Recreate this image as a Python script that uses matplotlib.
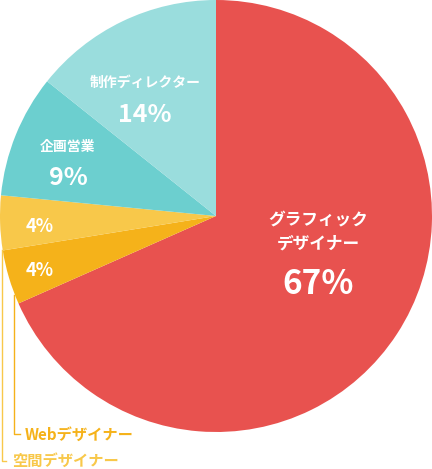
import matplotlib
matplotlib.use("Agg")
import matplotlib.pyplot as plt
import numpy as np

plt.rcParams['font.family'] = ['Noto Sans CJK JP', 'DejaVu Sans']

categories = ["グラフィック\nデザイナー", "Webデザイナー", "空間デザイナー", "企画営業", "制作ディレクター"]
values = [67, 4, 4, 9, 14]
colors = ["#E8524F", "#F5B21A", "#F8C84A", "#6CCFCF", "#9ADDDD"]

W, H = 432, 469
fig = plt.figure(figsize=(W/100, H/100), dpi=100)
ax = fig.add_axes([0, 0, 1, 1])

cx, cy, r = 216, 216, 216
# y axis is inverted below, so angles are mirrored: start at -90 and go counterclockwise in data
ax.pie(values, colors=colors, startangle=-90, counterclock=True, radius=r,
       center=(cx, cy), frame=True, wedgeprops=dict(linewidth=0))
ax.set_xlim(0, W); ax.set_ylim(H, 0); ax.axis('off'); ax.set_aspect('auto')

def txt(x, y, s, size, weight='bold', color='white', ha='center'):
    ax.text(x, y, s, fontsize=size, fontweight=weight, color=color, ha=ha, va='center',
            linespacing=1.3)

txt(318, 232, categories[0], 12)
txt(318, 285, f"{values[0]}%", 24)
txt(40, 270, f"{values[1]}%", 13)
txt(40, 226, f"{values[2]}%", 13)
txt(68, 147, categories[3], 10)
txt(68, 178, f"{values[3]}%", 18)
txt(145, 83, categories[4], 10)
txt(145, 115, f"{values[4]}%", 18)

ax.plot([14, 14, 20], [295, 434, 434], color="#F5B21A", lw=1)
ax.plot([2, 2, 6], [250, 461, 461], color="#F8C84A", lw=1)
txt(25, 435, categories[1], 11, color="#F5B21A", ha='left')
txt(12, 461, categories[2], 11, color="#F8C84A", ha='left')

fig.savefig("out.png", dpi=100)
